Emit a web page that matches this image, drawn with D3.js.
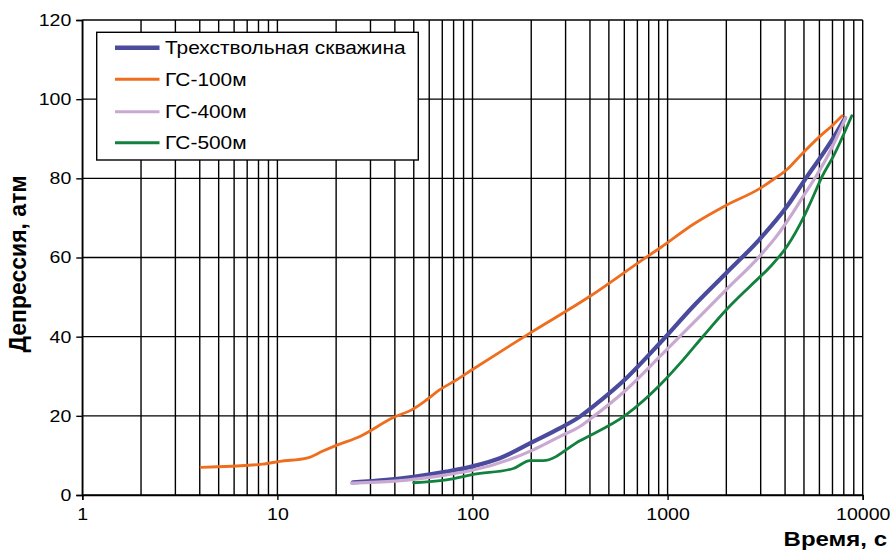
<!DOCTYPE html>
<html><head><meta charset="utf-8">
<script src="https://cdn.jsdelivr.net/npm/d3@7"></script>
<style>
body{margin:0;background:#fff;}
text{font-family:"Liberation Sans",Arial,sans-serif;}
</style></head>
<body><svg id="c" width="891" height="551"></svg>
<script>
// ---- data ----
const seriesNames = ["Трехствольная скважина","ГС-100м","ГС-400м","ГС-500м"];
const seriesColors = ["#4b4b9e","#ee6e1e","#c9a9d1","#12813e"];
const seriesWidths = [4.2,2.8,3.2,2.8];

const triT = [24.4,36.3,49.9,73.5,101,138,205,281,355,416,614,914,1355,2000,2960,4105,5160,6270,7080,8110];
const triV = [3.2,3.8,4.6,5.9,7.3,9.3,13.5,16.9,19.8,22.4,29.5,38.4,47.7,56.1,64.6,73.0,80.3,86.3,90.3,95.2];

const gs100T = [4.06,8.4,10.3,14.3,17.1,20.2,26.5,39,49.5,58,68,83,100,140,197,400,779,914,1355,2000,2960,3480,4105,4760,6030,7080,7850];
const gs100V = [7.0,7.8,8.5,9.4,11.1,12.6,14.8,19.5,21.7,24.0,26.6,29.1,31.7,36.3,40.9,50.2,60.1,62.4,68.4,73.2,77.4,79.7,82.3,85.6,90.6,93.6,95.8];

const gs400T = [24,40,73.5,101,205,281,355,416,614,914,1355,2000,2960,3620,4380,4960,5780,6480,8180];
const gs400V = [3.0,3.5,5.1,6.3,11.4,14.8,17.3,19.8,26.6,35.0,43.5,51.9,60.3,65.4,71.3,75.5,80.6,84.8,95.3];

const gs500T = [49.9,73.5,101,162,197,230,355,614,914,1204,1520,2000,2640,3375,4105,4960,5480,6200,7080,8790];
const gs500V = [3.1,3.8,5.2,6.7,8.7,8.7,13.7,20.3,27.8,34.2,40.1,46.8,52.7,57.8,62.9,70.0,74.6,80.5,85.6,95.8];

const xTickValues = [1,10,100,1000,10000];
const yTickValues = [0,20,40,60,80,100,120];
const xTitle = "Время, с";
const yTitle = "Депрессия, атм";

const seriesData = [
  d3.zip(triT,triV), d3.zip(gs100T,gs100V), d3.zip(gs400T,gs400V), d3.zip(gs500T,gs500V)
];

// ---- layout ----
const L=82.3, R=862.7, T=20, B=495;
const svg = d3.select("#c");
const x = d3.scaleLog().domain([1,10000]).range([L,R]);
const y = d3.scaleLinear().domain([0,120]).range([B,T]);

// grid
const vGrid = [];
[1,10,100,1000].forEach(d=>{for(let k=1;k<=9;k++) vGrid.push(d*k);});
vGrid.push(10000);
const grid = svg.append("g").attr("stroke","#000").attr("stroke-width",1.4);
grid.selectAll("line.v").data(vGrid).join("line").attr("class","v")
  .attr("x1",d=>x(d)).attr("x2",d=>x(d)).attr("y1",T).attr("y2",B);
grid.selectAll("line.h").data(yTickValues).join("line").attr("class","h")
  .attr("x1",L).attr("x2",R).attr("y1",d=>y(d)).attr("y2",d=>y(d));

// axes
const gx = svg.append("g").attr("transform",`translate(0,${B})`)
  .call(d3.axisBottom(x).tickValues(xTickValues).tickFormat(d3.format("d")).tickSize(5).tickPadding(8));
const gy = svg.append("g").attr("transform",`translate(${L},0)`)
  .call(d3.axisLeft(y).tickValues(yTickValues).tickSize(6).tickPadding(5));
[gx,gy].forEach(g=>{
  g.select(".domain").attr("stroke","#000").attr("stroke-width",1.4);
  g.selectAll(".tick line").attr("stroke","#000").attr("stroke-width",1.4);
  g.selectAll(".tick text").attr("fill","#000").style("font-size","17px")
   .attr("font-family","Liberation Sans, Arial, sans-serif");
});
gx.selectAll(".tick text").attr("transform","scale(1.15,1)");
gy.selectAll(".tick text").attr("x",-11/1.15).attr("transform","scale(1.15,1)");

// lines
const line = d3.line().x(d=>x(d[0])).y(d=>y(d[1])).curve(d3.curveMonotoneX);
const order=[0,1,2,3];
svg.append("g").selectAll("path").data(order).join("path")
  .attr("d",i=>line(seriesData[i])).attr("fill","none")
  .attr("stroke",i=>seriesColors[i]).attr("stroke-width",i=>seriesWidths[i])
  .attr("stroke-linejoin","round").attr("stroke-linecap","round");

// legend
const lg = svg.append("g");
lg.append("rect").attr("x",96.7).attr("y",32.3).attr("width",321.6).attr("height",127.7)
  .attr("fill","#fff").attr("stroke","#000").attr("stroke-width",1.4);
const rowY=[47.7,79.3,111.7,142.7];
seriesNames.forEach((n,i)=>{
  lg.append("line").attr("x1",115).attr("x2",159.5).attr("y1",rowY[i]).attr("y2",rowY[i])
    .attr("stroke",seriesColors[i]).attr("stroke-width",i===0?4.5:3);
  lg.append("g").attr("transform",`translate(165,${rowY[i]+6.5}) scale(1.16,1)`)
    .append("text").text(n).style("font-size","18px").attr("fill","#000");
});

// titles
svg.append("g").attr("transform","translate(887,546) scale(1.2,1)")
  .append("text").attr("text-anchor","end").style("font-size","20px").style("font-weight","bold").text(xTitle);
svg.append("text").attr("transform","translate(26,264) rotate(-90)").attr("text-anchor","middle")
  .style("font-size","23px").style("font-weight","bold").text(yTitle);
</script></body></html>
